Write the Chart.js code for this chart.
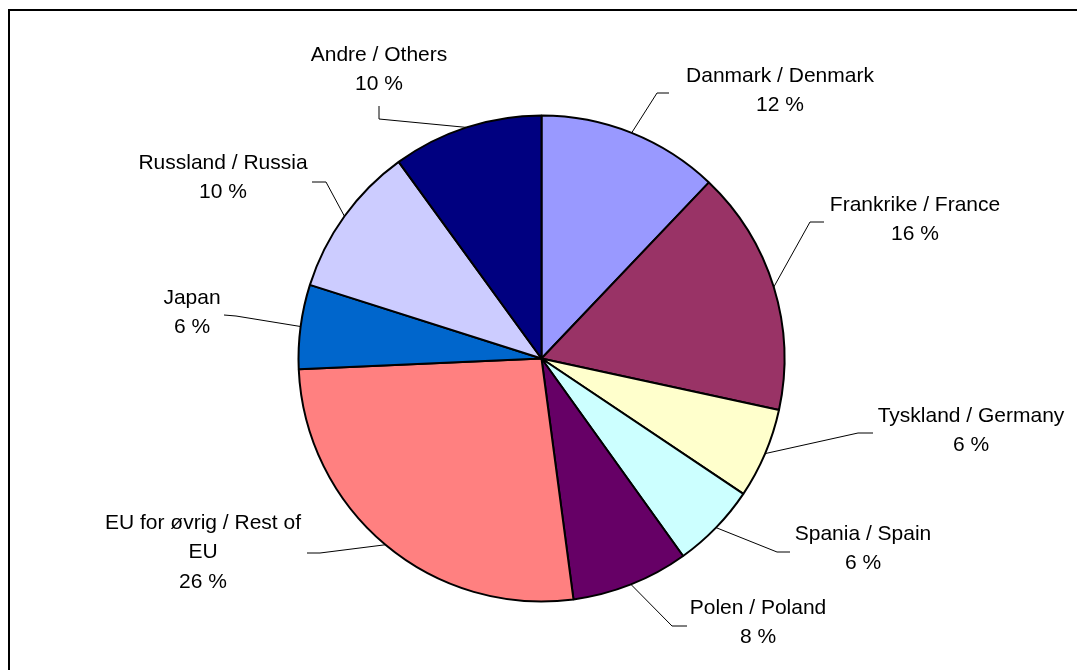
<!DOCTYPE html>
<html>
<head>
<meta charset="utf-8">
<script src="https://cdn.jsdelivr.net/npm/chart.js@4/dist/chart.umd.min.js"></script>
<style>
  html, body { margin: 0; padding: 0; background: #fff; }
  #wrap { width: 1077px; height: 670px; position: relative; }
</style>
</head>
<body>
<div id="wrap"><canvas id="c"></canvas></div>
<script>
// ---- data ----
const categories = [
  'Danmark / Denmark',
  'Frankrike / France',
  'Tyskland / Germany',
  'Spania / Spain',
  'Polen / Poland',
  'EU for øvrig / Rest of EU',
  'Japan',
  'Russland / Russia',
  'Andre / Others'
];
const shares = [12.1, 16.3, 6.0, 5.7, 7.8, 26.4, 5.6, 10.1, 10.0];
const sliceColors = ['#9999FF', '#993366', '#FFFFCC', '#CCFFFF', '#660066', '#FF8080', '#0066CC', '#CCCCFF', '#000080'];

// ---- label layout (text block centre x, first line y, leader elbow and tail end, wrap width) ----
const labelX     = [780, 915, 971, 863, 758, 203, 192, 223, 379];
const labelY     = [76, 205, 416, 534, 608, 523, 298, 163, 55];
const elbowX     = [657, 810, 858, 777, 672, 320, 236, 326, 379];
const elbowY     = [93, 222, 433, 552, 626, 553, 316, 182, 119];
const tailX      = [669, 824, 873, 790, 687, 307, 224, 312, 379];
const tailY      = [93, 222, 433, 552, 626, 553, 315, 182, 106];
const wrapWidth  = [0, 0, 0, 0, 0, 210, 0, 0, 0];

const FONT = '21px "Liberation Sans", Arial, sans-serif';
const LINE_H = 29.5;

function wrapText(ctx, text, maxW) {
  if (!maxW) return [text];
  const words = text.split(' ');
  const lines = [];
  let cur = '';
  for (const w of words) {
    const test = cur ? cur + ' ' + w : w;
    if (ctx.measureText(test).width > maxW && cur) { lines.push(cur); cur = w; }
    else cur = test;
  }
  if (cur) lines.push(cur);
  return lines;
}

const labelPlugin = {
  id: 'pieLabels',
  afterDraw(chart) {
    const ctx = chart.ctx;
    const meta = chart.getDatasetMeta(0);
    const total = shares.reduce((a, b) => a + b, 0);
    ctx.save();
    // outer frame
    ctx.strokeStyle = '#000';
    ctx.lineWidth = 2;
    ctx.strokeRect(9, 10, 1200, 800);

    ctx.font = FONT;
    ctx.fillStyle = '#000';
    ctx.textAlign = 'center';
    ctx.textBaseline = 'middle';
    meta.data.forEach((arc, i) => {
      const p = arc.getProps(['x', 'y', 'startAngle', 'endAngle', 'outerRadius'], true);
      const mid = (p.startAngle + p.endAngle) / 2;
      const ax = p.x + Math.cos(mid) * p.outerRadius;
      const ay = p.y + Math.sin(mid) * p.outerRadius;
      // leader line
      ctx.strokeStyle = '#000';
      ctx.lineWidth = 1;
      ctx.beginPath();
      ctx.moveTo(ax, ay);
      ctx.lineTo(elbowX[i], elbowY[i]);
      ctx.lineTo(tailX[i], tailY[i]);
      ctx.stroke();
      // text
      const lines = wrapText(ctx, categories[i], wrapWidth[i]);
      lines.push(Math.round(shares[i] / total * 100) + ' %');
      lines.forEach((ln, k) => {
        ctx.fillText(ln, labelX[i], labelY[i] + k * LINE_H);
      });
    });
    ctx.restore();
  }
};

new Chart(document.getElementById('c'), {
  type: 'pie',
  data: {
    labels: categories,
    datasets: [{
      data: shares,
      backgroundColor: sliceColors,
      borderColor: '#000',
      borderWidth: 2,
      borderAlign: 'center'
    }]
  },
  options: {
    responsive: true,
    maintainAspectRatio: false,
    animation: false,
    radius: 243,
    layout: { padding: { left: 6, right: 0, top: 47, bottom: 0 } },
    plugins: {
      legend: { display: false },
      tooltip: { enabled: false }
    }
  },
  plugins: [labelPlugin]
});
</script>
</body>
</html>
